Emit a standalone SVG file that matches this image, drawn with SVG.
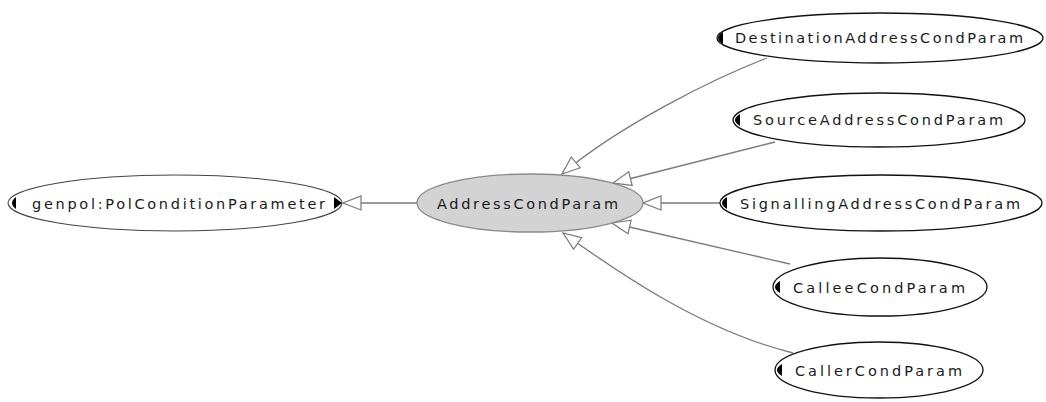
<svg xmlns="http://www.w3.org/2000/svg" width="1046" height="402" viewBox="0 0 1046 402">
  <style>
    .node ellipse { fill: #ffffff; stroke: #111111; stroke-width: 1.3; }
    #n-genpol ellipse { stroke: #444444; stroke-width: 1.1; }
    #n-address ellipse { fill: #d3d3d3; stroke: #8a8a8a; stroke-width: 1.3; }
    .node text { font-family: "DejaVu Sans", "Liberation Sans", sans-serif; font-size: 14.5px; fill: #1a1a1a; }
    .knob { fill: #000000; }
    .edges path { fill: none; stroke: #7a7a7a; stroke-width: 1.3; marker-end: url(#hollow); }
  </style>
  <defs>
    <marker id="hollow" markerUnits="userSpaceOnUse" viewBox="0 0 20 16" refX="19" refY="8" markerWidth="20" markerHeight="16" orient="auto">
      <path d="M1,1 L19,8 L1,15 Z" fill="#ffffff" stroke="#7a7a7a" stroke-width="1.2"/>
    </marker>
  </defs>
  <rect width="1046" height="402" fill="#ffffff"/>

  <!-- generalisation links -->
  <g class="edges">
    <path d="M417,203 L343,203"/>
    <path d="M767,58 C715,78 620,125 562,174"/>
    <path d="M775,142 L613,183"/>
    <path d="M720,203 L643,203"/>
    <path d="M790,264 L612,223"/>
    <path d="M793,353 C700,330 615,270 563,233"/>
  </g>

  <g class="node" id="n-genpol">
    <ellipse cx="175" cy="203" rx="167" ry="28"/>
    <path class="knob" d="M16,197 Q8,203 16,209 Z"/>
    <path class="knob" d="M334,197 L342,203 L334,209 Z"/>
    <text x="32" y="209" textLength="293" lengthAdjust="spacing">genpol:PolConditionParameter</text>
  </g>

  <g class="node" id="n-address">
    <ellipse cx="530" cy="203" rx="113" ry="29"/>
    <text x="437" y="209" textLength="181" lengthAdjust="spacing">AddressCondParam</text>
  </g>

  <g class="node" id="n-destination">
    <ellipse cx="880" cy="38" rx="163" ry="25"/>
    <path class="knob" d="M723,32 Q713,38 723,44 Z"/>
    <text x="735" y="43" textLength="288" lengthAdjust="spacing">DestinationAddressCondParam</text>
  </g>

  <g class="node" id="n-source">
    <ellipse cx="879" cy="120" rx="146" ry="27"/>
    <path class="knob" d="M740,114 Q730,120 740,126 Z"/>
    <text x="753" y="125" textLength="250" lengthAdjust="spacing">SourceAddressCondParam</text>
  </g>

  <g class="node" id="n-signalling">
    <ellipse cx="881" cy="203" rx="161" ry="28"/>
    <path class="knob" d="M727,197 Q717,203 727,209 Z"/>
    <text x="740" y="209" textLength="280" lengthAdjust="spacing">SignallingAddressCondParam</text>
  </g>

  <g class="node" id="n-callee">
    <ellipse cx="880" cy="287" rx="107" ry="29"/>
    <path class="knob" d="M780,281 Q770,287 780,293 Z"/>
    <text x="793" y="293" textLength="172" lengthAdjust="spacing">CalleeCondParam</text>
  </g>

  <g class="node" id="n-caller">
    <ellipse cx="879" cy="370" rx="104" ry="28"/>
    <path class="knob" d="M782,364 Q772,370 782,376 Z"/>
    <text x="795" y="376" textLength="167" lengthAdjust="spacing">CallerCondParam</text>
  </g>
</svg>
